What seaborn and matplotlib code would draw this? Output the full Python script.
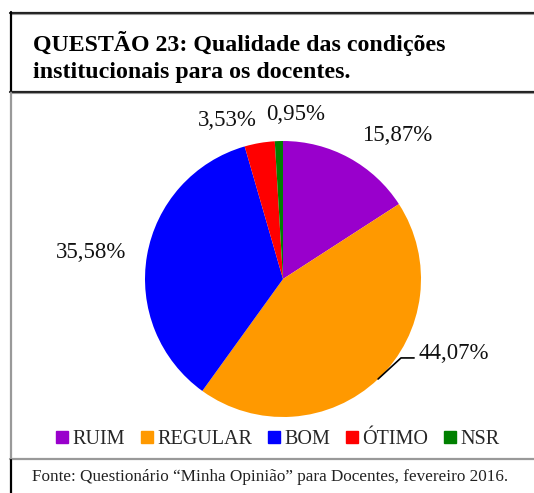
import matplotlib.pyplot as plt
import numpy as np
import seaborn as sns
from matplotlib.lines import Line2D

# data
categories = ["RUIM", "REGULAR", "BOM", "ÓTIMO", "NSR"]
percents = [15.87, 44.07, 35.58, 3.53, 0.95]
colors = ["#9900CC", "#FF9900", "#0000FF", "#FF0000", "#008000"]
title = "QUESTÃO 23: Qualidade das condições\ninstitucionais para os docentes."
source = "Fonte: Questionário \u201cMinha Opinião\u201d para Docentes, fevereiro 2016."

sns.set_theme(style="white")
plt.rcParams["font.family"] = ["Liberation Serif", "DejaVu Serif"]

W, H = 534, 493
fig = plt.figure(figsize=(W / 100, H / 100), dpi=100)

#helper: pixel (from top-left) -> figure fraction
def fx(px):
    return px / W

def fy(py):
    return 1 - py / H

#pie axes, centre (283, 279) radius 138 px
cx, cy, r = 283, 279, 138
ax = fig.add_axes([fx(cx - r), fy(cy + r), 2 * r / W, 2 * r / H])
wedges, _ = ax.pie(percents, colors=sns.color_palette(colors), startangle=90,
                   counterclock=False, radius=1, wedgeprops={"linewidth": 0})
ax.set_xlim(-1, 1)
ax.set_ylim(-1, 1)
ax.axis("off")

#label positions (text centres, in pie radius units)
label_pos = [(0.83, 1.04), (1.24, -0.54), (-1.39, 0.19), (-0.40, 1.15), (0.09, 1.19)]
for p, (lx, ly) in zip(percents, label_pos):
    ax.text(lx, ly, f"{p:.2f}%".replace(".", ","), ha="center", va="center",
            fontsize=16.5, color="#111111", clip_on=False)

#leader line for REGULAR slice
w = wedges[1]
mid = np.deg2rad((w.theta1 + w.theta2) / 2)
x0, y0 = np.cos(mid), np.sin(mid)
ax.plot([x0, 0.855, 0.95], [y0, -0.572, -0.572], color="black", lw=1.2, clip_on=False)

#legend
handles = [Line2D([], [], marker="s", linestyle="none", markersize=8.5,
                  markerfacecolor=c, markeredgecolor=c) for c in colors]
fig.legend(handles, categories, loc="center", bbox_to_anchor=(fx(278), fy(439)),
           ncol=5, frameon=False, fontsize=14.5, handlelength=0.6,
           handletextpad=0.2, columnspacing=0.8, borderpad=0)

#title and source
fig.text(fx(33), fy(57), title, fontsize=17.2, fontweight="bold", ha="left",
         va="center", linespacing=1.35, color="black")
fig.text(fx(32), fy(477), source, fontsize=12.3, ha="left", va="center", color="#222222")

#frame lines
def hline(py, x0, x1, color, lw):
    fig.add_artist(Line2D([fx(x0), fx(x1)], [fy(py), fy(py)], color=color, lw=lw))

def vline(px, y0, y1, color, lw):
    fig.add_artist(Line2D([fx(px), fx(px)], [fy(y0), fy(y1)], color=color, lw=lw))

hline(12.5, 10, W, "#222222", 1.6)
hline(14, 10, W, "#999999", 0.8)
vline(10.5, 12, 92, "black", 1.6)
hline(91.5, 10, W, "#222222", 1.6)
hline(93, 10, W, "#999999", 0.8)
vline(10.5, 93, 459, "#999999", 1.6)
hline(459, 10, W, "#999999", 1.6)
vline(10.5, 460, H, "black", 1.6)

fig.savefig("out.png", dpi=100)
